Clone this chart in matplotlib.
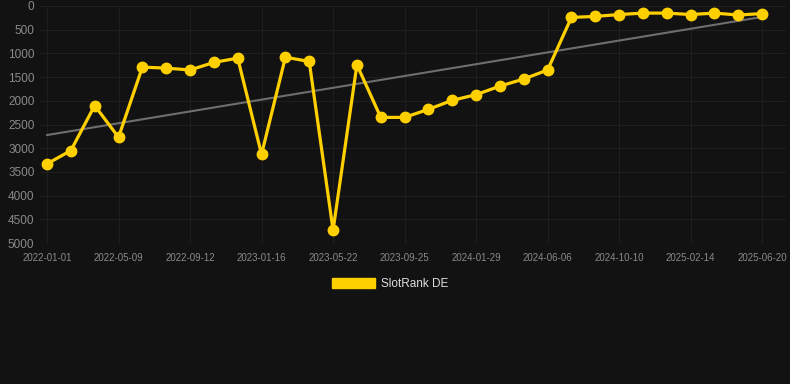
import matplotlib
matplotlib.use("Agg")
import matplotlib.pyplot as plt
import numpy as np
from matplotlib.patches import Patch

plt.rcParams['font.family'] = ['Liberation Sans', 'DejaVu Sans']

tick_labels = ["2022-01-01", "2022-05-09", "2022-09-12", "2023-01-16", "2023-05-22",
               "2023-09-25", "2024-01-29", "2024-06-06", "2024-10-10", "2025-02-14",
               "2025-06-20"]
ranks = [3330, 3050, 2100, 2770, 1290, 1310, 1350, 1190, 1100, 3130,
         1080, 1170, 4730, 1240, 2350, 2350, 2180, 1990, 1870, 1690,
         1540, 1350, 240, 220, 180, 150, 150, 180, 150, 190, 160]
series_name = "SlotRank DE"

bg = "#121212"
yellow = "#FFD000"

fig = plt.figure(figsize=(7.9, 3.84), dpi=100, facecolor=bg)
ax = fig.add_axes([40/790, 141/384, 746/790, 237/384], facecolor=bg)

x = np.arange(len(ranks))
y = np.array(ranks, dtype=float)
coef = np.polyfit(x, y, 1)
ax.plot(x, np.polyval(coef, x), color="#6e6e6e", lw=1.5, zorder=2)
ax.plot(x, y, color=yellow, lw=2.3, marker="o", markersize=7.5, zorder=3, label=series_name)

ax.set_xlim(-0.294, 31.0)
ax.set_ylim(5000, 0)
ax.set_yticks(np.arange(0, 5001, 500))
ax.set_xticks(x[::3])
ax.set_xticklabels(tick_labels)
ax.grid(True, color="#1f1f1f", lw=0.8)
for s in ax.spines.values():
    s.set_visible(False)
ax.tick_params(axis='y', length=0, pad=4, labelsize=8.5, labelcolor="#8a8a8a")
ax.tick_params(axis='x', length=0, pad=7, labelsize=7, labelcolor="#8a8a8a")

leg = fig.legend(handles=[Patch(facecolor=yellow, edgecolor=yellow)], labels=[series_name],
                 loc="center", bbox_to_anchor=(390/790, 1 - 284/384), frameon=False,
                 fontsize=8.5, handlelength=3.6, handleheight=1.0, handletextpad=0.5)
for t in leg.get_texts():
    t.set_color("#dddddd")

fig.savefig("out.png", dpi=100, facecolor=bg)
